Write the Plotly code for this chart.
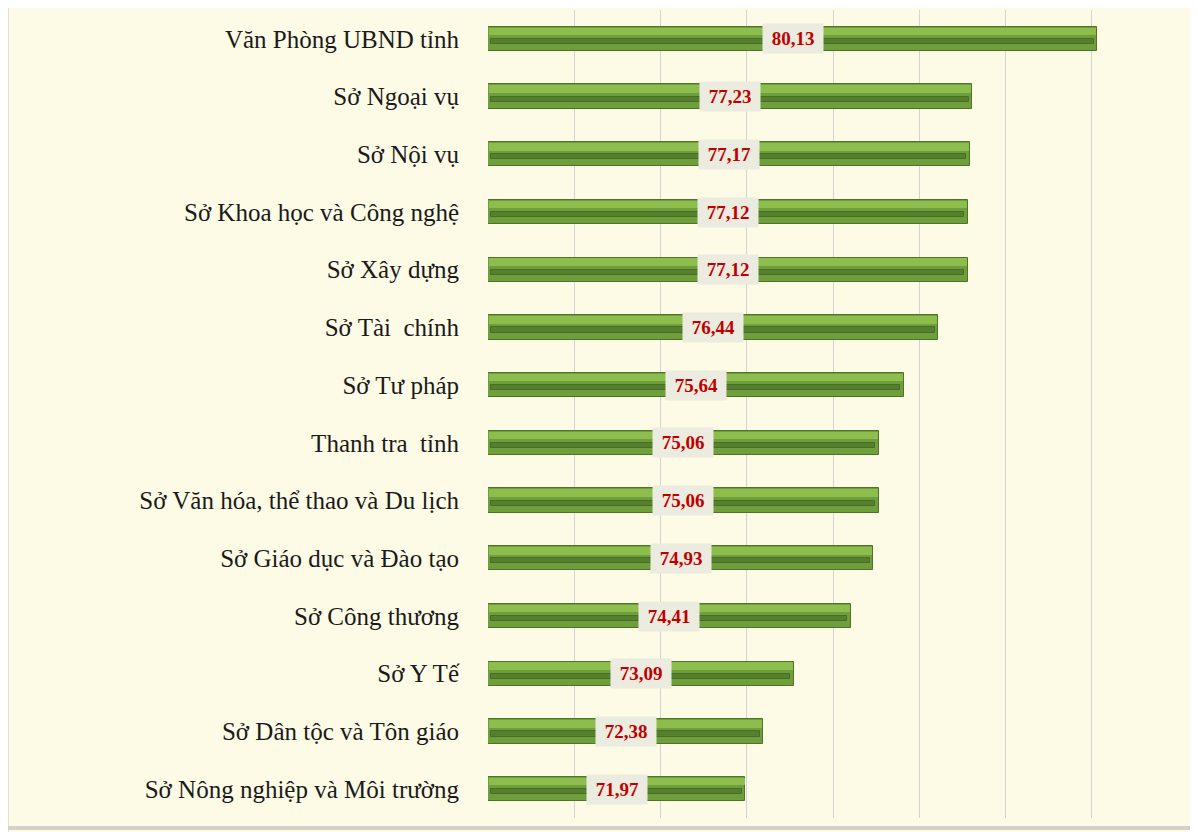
import plotly.graph_objects as go

categories = [
    "Văn Phòng UBND tỉnh",
    "Sở Ngoại vụ",
    "Sở Nội vụ",
    "Sở Khoa học và Công nghệ",
    "Sở Xây dựng",
    "Sở Tài  chính",
    "Sở Tư pháp",
    "Thanh tra  tỉnh",
    "Sở Văn hóa, thể thao và Du lịch",
    "Sở Giáo dục và Đào tạo",
    "Sở Công thương",
    "Sở Y Tế",
    "Sở Dân tộc và Tôn giáo",
    "Sở Nông nghiệp và Môi trường",
]
values = [80.13, 77.23, 77.17, 77.12, 77.12, 76.44, 75.64, 75.06, 75.06, 74.93, 74.41, 73.09, 72.38, 71.97]
value_labels = ["80,13", "77,23", "77,17", "77,12", "77,12", "76,44", "75,64", "75,06", "75,06", "74,93", "74,41", "73,09", "72,38", "71,97"]

X_MIN, X_MAX = 66, 82

fig = go.Figure()
# main bar body
fig.add_trace(go.Bar(
    y=categories, x=[v - X_MIN for v in values], base=X_MIN, orientation="h",
    width=0.42, marker=dict(color="#6f9f3c", line=dict(color="#4e7526", width=1)),
    hoverinfo="skip", showlegend=False,
))
# top highlight
fig.add_trace(go.Bar(
    y=categories, x=[v - X_MIN - 0.04 for v in values], base=X_MIN + 0.02, orientation="h",
    width=0.13, offset=0.065, marker=dict(color="#8dbe4d", line=dict(width=0)),
    hoverinfo="skip", showlegend=False,
))
# inner dark groove
fig.add_trace(go.Bar(
    y=categories, x=[v - X_MIN - 0.14 for v in values], base=X_MIN + 0.06, orientation="h",
    width=0.09, offset=-0.09, marker=dict(color="#56802f", line=dict(color="#486e24", width=1)),
    hoverinfo="skip", showlegend=False,
))

annotations = []
for c, v, lab in zip(categories, values, value_labels):
    annotations.append(dict(
        x=(X_MIN + v) / 2, y=c, xref="x", yref="y", text="&nbsp;<b>%s</b>&nbsp;" % lab,
        showarrow=False, font=dict(family="Liberation Serif", size=19, color="#c00000"),
        bgcolor="#ebebdf", borderpad=4,
    ))

W, H = 1190, 824
fig.update_layout(
    width=W, height=H,
    margin=dict(l=480, r=20, t=2, b=14),
    paper_bgcolor="#fdfbe5", plot_bgcolor="#fdfbe5",
    barmode="overlay", bargap=0,
    annotations=annotations,
    shapes=[
        dict(type="line", xref="paper", yref="paper", x0=-481 / 690, x1=-481 / 690,
             y0=-14 / 808, y1=1 + 10 / 808, line=dict(color="#c8c6bc", width=3)),
        dict(type="line", xref="paper", yref="paper", x0=-481 / 690, x1=1 + 20 / 690,
             y0=-10 / 808, y1=-10 / 808, line=dict(color="#d4d2c8", width=4)),
    ],
    xaxis=dict(range=[X_MIN, X_MAX], dtick=2, showticklabels=False, showgrid=True,
               gridcolor="#d3d3d3", gridwidth=1, zeroline=False, showline=False, fixedrange=True),
    yaxis=dict(categoryorder="array", categoryarray=categories[::-1], showgrid=False,
               tickfont=dict(family="Liberation Serif", size=25, color="#1a1a1a"),
               ticklabelstandoff=28, showline=False, ticks=""),
)

fig.write_html("out.html")
